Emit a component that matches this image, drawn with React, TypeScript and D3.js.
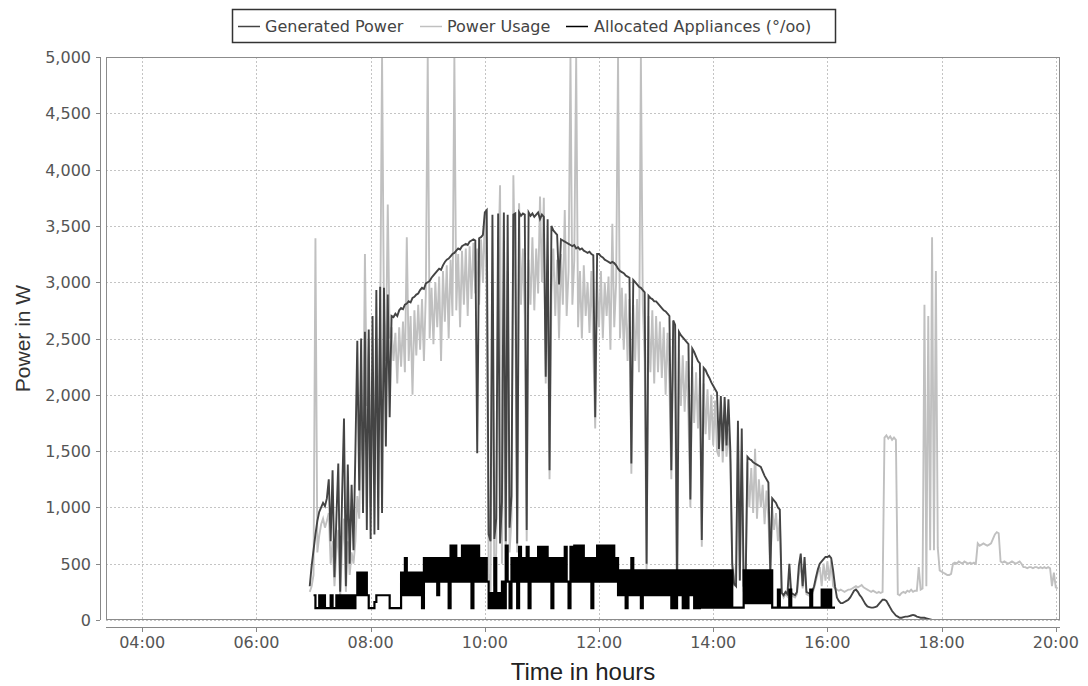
import React from "react";
import * as d3 from "d3";

const WIDTH = 1088;
const HEIGHT = 686;
const PLOT = { left: 106, right: 1060, top: 57, bottom: 620 };

// hours shown on the x axis (domain in decimal hours)
const X_DOMAIN: [number, number] = [3.365, 20.074];
const X_TICKS = [4, 6, 8, 10, 12, 14, 16, 18, 20];
const Y_DOMAIN: [number, number] = [0, 5000];
const Y_TICKS = [0, 500, 1000, 1500, 2000, 2500, 3000, 3500, 4000, 4500, 5000];

const SERIES_NAMES = ["Generated Power", "Power Usage", "Allocated Appliances (°/oo)"];

// sampling: one value every 2 minutes
const STEP_MIN = 2;

// Generated Power (W), from 06:56
const GEN_START = "06:56";
const generatedPower = [
  300, 480,
  620, 760, 880, 960, 1000, 1040, 1010, 1080, 1250, 700, 1330, 380, 900, 1390, 250, 1100, 1790, 300, 1380, 500, 1200, 620, 1500, 2480, 1150, 2500, 950, 2560, 800, 2580,
  720, 2700, 760, 2930, 800, 2960, 950, 2950, 1540, 2890, 1800, 2700, 2690, 2720, 2700, 2750, 2770, 2760, 2800, 2810, 2830, 2820, 2860, 2870, 2890, 2900, 2930, 2950, 2940, 2990,
  3000, 3010, 3040, 3060, 3080, 3100, 3120, 3110, 3150, 3180, 3200, 3210, 3230, 3250, 3260, 3280, 3300, 3290, 3320, 3330, 3340, 3330, 3360, 3370, 3380, 3370, 1480, 3390, 3400, 3420,
  3620, 3640, 760, 700, 3600, 720, 900, 3610, 680, 1050, 3620, 700, 3600, 820, 1100, 3600, 3610, 680, 3620, 3590, 3610, 3600, 800, 3620, 3590, 3610, 3580, 3600, 3620, 3560,
  3600, 3580, 2160, 3560, 1330, 3500, 3460, 3440, 3420, 2980, 3380, 3370, 3360, 3350, 3340, 3330, 3320, 3330, 3300, 3310, 3290, 3300, 3280, 3270, 3260, 3270, 3250, 3240, 1800, 3250,
  3250, 3230, 3220, 3200, 3190, 3180, 3170, 3180, 3170, 3150, 3120, 3100, 3090, 3080, 3060, 3050, 3040, 1390, 3020, 3000, 2980, 2960, 2950, 2930, 2910, 500, 2880, 2860, 2850, 2830,
  2830, 2810, 2790, 2770, 2750, 2740, 2720, 2700, 1330, 2660, 2620, 240, 2560, 2530, 2510, 2490, 2470, 2450, 1070, 2410, 2380, 2340, 2300, 2280, 710, 2240, 2220, 2180, 2150, 2110,
  2080, 2050, 2020, 1520, 1990, 1500, 1980, 1550, 1960, 1510, 500, 320, 300, 1770, 350, 1700, 300, 280, 1450, 1430, 1420, 1400, 1390, 1380, 1370, 1360, 1320, 1280, 1250, 1220,
  420, 1080, 1060, 1040, 1000, 980, 240, 220, 250, 230, 500, 240, 230, 220, 250, 480, 590, 300, 560, 250, 240, 230, 250, 300, 380, 450, 500, 520, 540, 560,
  560, 570, 550, 440, 300, 200, 170, 150, 150, 160, 170, 180, 200, 230, 260, 270, 250, 220, 200, 170, 140, 120, 115, 110, 110, 115, 120, 140, 160, 180,
  180, 170, 140, 110, 80, 60, 40, 30, 20, 20, 25, 30, 30, 35, 40, 45, 40, 30, 25, 20, 20, 20, 15, 10, 5, 0, 0, 0, 0, 0,
  0, 0, 0, 0, 0, 0, 0, 0, 0, 0, 0, 0, 0, 0, 0,
];

// Power Usage (W), from 06:56
const USAGE_START = "06:56";
const powerUsage = [
  250, 300,
  400, 3390, 600, 750, 850, 900, 820, 880, 950, 500, 700, 300, 600, 800, 200, 650, 900, 250, 700, 400, 600, 500, 700, 1100, 900, 1800, 1400, 3250, 1900, 2500,
  1000, 2200, 1200, 2500, 1800, 2600, 5000, 2700, 2300, 3690, 2500, 2600, 2300, 2550, 2100, 2600, 2250, 2650, 2200, 3400, 2300, 2700, 2000, 2750, 2350, 2800, 2400, 2850, 2300, 2900,
  5000, 2500, 2950, 2450, 3000, 2600, 3050, 2300, 3100, 2650, 3150, 2500, 3200, 2700, 5000, 2750, 3250, 2600, 3280, 2800, 3300, 2700, 3320, 2850, 3350, 2900, 3300, 2800, 3380, 3000,
  3600, 2900, 400, 250, 3000, 300, 600, 3100, 3860, 500, 2900, 350, 3100, 600, 900, 3950, 2900, 600, 3700, 2800, 3300, 2700, 700, 3200, 2800, 3400, 2750, 3300, 2900, 3760,
  3000, 3750, 2100, 3200, 1250, 2900, 3300, 2700, 3200, 2500, 3250, 2800, 3640, 2700, 3100, 5000, 2800, 3200, 5000, 2600, 3100, 2500, 3150, 2700, 3000, 2550, 3100, 2400, 1700, 3000,
  2600, 3100, 2500, 3000, 2700, 3050, 2400, 3520, 2600, 3000, 5000, 2500, 2950, 2400, 2900, 2300, 2850, 1300, 2800, 2300, 2850, 2200, 5000, 2800, 2300, 450, 2700, 2200, 2750, 2100,
  2700, 2200, 2650, 2150, 2600, 2000, 2550, 2100, 1250, 2500, 2000, 200, 2400, 1900, 2350, 1850, 2300, 1800, 1000, 2250, 1750, 2200, 1700, 2150, 650, 2100, 1650, 2050, 1600, 2000,
  1550, 1950, 1500, 1450, 1850, 1400, 1800, 1450, 1700, 1400, 450, 300, 500, 1650, 350, 1500, 250, 300, 1400, 1000, 1350, 950, 1520, 900, 1250, 1000, 1200, 850, 1150, 900,
  400, 1000, 800, 950, 700, 900, 250, 200, 230, 210, 400, 220, 210, 200, 230, 400, 500, 280, 450, 230, 220, 210, 230, 280, 350, 420, 470, 300, 500, 350,
  520, 350, 530, 300, 280, 270, 260, 270, 260, 250, 260, 270, 270, 280, 290, 300, 290, 300, 310, 290, 280, 270, 260, 250, 260, 250, 240, 250, 240, 250,
  1620, 1640, 1610, 1630, 1600, 1620, 1600, 230, 220, 240, 250, 240, 260, 250, 270, 250, 260, 260, 470, 270, 280, 2800, 300, 2700, 620, 3400, 620, 3100, 640, 440,
  430, 420, 410, 400, 400, 410, 500, 510, 500, 520, 510, 500, 520, 510, 500, 510, 500, 510, 500, 680, 660, 670, 680, 670, 660, 670, 680, 720, 760, 780,
  770, 520, 510, 520, 510, 500, 510, 520, 510, 500, 510, 520, 500, 470, 470, 460, 470, 470, 460, 470, 470, 460, 470, 460, 470, 460, 470, 460, 300, 420,
  290, 280,
];

// Allocated Appliances, from 07:00
const ALLOC_START = "07:00";
const allocatedAppliances = [
  220, 105, 105, 220, 105, 220, 105, 105, 105, 220, 105, 105, 220, 105, 220, 105, 220, 105, 220, 105, 220, 105, 220, 420, 220, 420, 220, 420, 220, 105,
  105, 105, 160, 220, 220, 220, 220, 220, 220, 220, 105, 105, 105, 105, 105, 105, 420, 220, 550, 220, 420, 220, 420, 220, 420, 220, 420, 105, 550, 340,
  550, 340, 550, 340, 550, 220, 550, 340, 550, 340, 550, 105, 660, 340, 660, 340, 550, 340, 660, 340, 660, 340, 660, 105, 660, 340, 660, 340, 550, 340,
  550, 340, 105, 240, 105, 550, 105, 240, 105, 340, 105, 660, 340, 105, 550, 340, 550, 105, 650, 340, 550, 340, 650, 105, 550, 340, 550, 340, 650, 340,
  650, 340, 650, 340, 550, 105, 550, 340, 550, 340, 550, 340, 650, 340, 105, 650, 340, 660, 340, 660, 340, 660, 340, 550, 340, 550, 105, 550, 340, 660,
  340, 660, 340, 660, 340, 660, 340, 660, 340, 550, 220, 440, 220, 440, 105, 440, 220, 550, 220, 440, 220, 440, 105, 440, 220, 440, 220, 440, 220, 440,
  220, 440, 220, 440, 220, 440, 220, 440, 105, 440, 105, 440, 220, 440, 105, 440, 105, 440, 220, 440, 105, 440, 105, 440, 110, 440, 110, 440, 110, 440,
  110, 440, 110, 440, 110, 440, 110, 440, 110, 440, 110, 110, 110, 110, 110, 110, 440, 150, 440, 150, 440, 150, 440, 150, 440, 150, 440, 150, 440, 150,
  440, 110, 110, 110, 270, 110, 110, 110, 110, 110, 270, 110, 110, 110, 110, 110, 110, 110, 110, 110, 110, 270, 110, 110, 110, 110, 110, 270, 110, 270,
  110, 270, 110, 110, 110,
];

const COLORS = { generated: "#444444", usage: "#c0c0c0", allocated: "#000000" };

function toHours(hhmm: string): number {
  const [h, m] = hhmm.split(":").map(Number);
  return h + m / 60;
}

function toPoints(start: string, values: number[]): [number, number][] {
  const s = toHours(start);
  return values.map((v, i) => [s + (i * STEP_MIN) / 60, v]);
}

function fmtHour(h: number): string {
  return String(h).padStart(2, "0") + ":00";
}

export default function App() {
  const x = d3.scaleLinear().domain(X_DOMAIN).range([PLOT.left, PLOT.right]);
  const y = d3.scaleLinear().domain(Y_DOMAIN).range([PLOT.bottom, PLOT.top]);
  const fmtY = d3.format(",");

  const line = d3
    .line<[number, number]>()
    .x((d) => x(d[0]))
    .y((d) => y(d[1]));
  const stepLine = d3
    .line<[number, number]>()
    .x((d) => x(d[0]))
    .y((d) => y(d[1]))
    .curve(d3.curveStepAfter);

  const genPath = line(toPoints(GEN_START, generatedPower)) || "";
  const usagePath = line(toPoints(USAGE_START, powerUsage)) || "";
  const allocPath = stepLine(toPoints(ALLOC_START, allocatedAppliances)) || "";

  const axisColor = "#888888";
  const tickFont = "'DejaVu Sans', Verdana, sans-serif";

  const legendItems = [
    { name: SERIES_NAMES[0], color: COLORS.generated, lx: 238, tx: 265 },
    { name: SERIES_NAMES[1], color: COLORS.usage, lx: 420, tx: 447 },
    { name: SERIES_NAMES[2], color: COLORS.allocated, lx: 566, tx: 594 },
  ];

  return (
    <div style={{ position: "absolute", left: 0, top: 0 }}>
      <svg width={WIDTH} height={HEIGHT} viewBox={`0 0 ${WIDTH} ${HEIGHT}`} style={{ display: "block", background: "#fff" }}>
        <defs>
          <clipPath id="plotClip">
            <rect x={PLOT.left} y={PLOT.top} width={PLOT.right - PLOT.left} height={PLOT.bottom - PLOT.top} />
          </clipPath>
        </defs>
        <rect x={0} y={0} width={WIDTH} height={HEIGHT} fill="#ffffff" />
        {/* plot background */}
        <rect x={PLOT.left} y={PLOT.top} width={PLOT.right - PLOT.left} height={PLOT.bottom - PLOT.top} fill="#ffffff" />

        {/* grid */}
        <g stroke="#c4c4c4" strokeWidth={1} strokeDasharray="2,2" shapeRendering="crispEdges">
          {Y_TICKS.map((t) => (
            <line key={"gy" + t} x1={PLOT.left} x2={PLOT.right} y1={Math.round(y(t)) + 0.5} y2={Math.round(y(t)) + 0.5} />
          ))}
          {X_TICKS.map((t) => (
            <line key={"gx" + t} x1={Math.round(x(t)) + 0.5} x2={Math.round(x(t)) + 0.5} y1={PLOT.top} y2={PLOT.bottom} />
          ))}
        </g>

        {/* series */}
        <g clipPath="url(#plotClip)" fill="none" strokeLinejoin="miter" strokeLinecap="butt">
          <path d={usagePath} stroke={COLORS.usage} strokeWidth={1.9} />
          <path d={genPath} stroke={COLORS.generated} strokeWidth={1.9} />
          <path d={allocPath} stroke={COLORS.allocated} strokeWidth={2.2} />
        </g>

        {/* plot frame */}
        <rect
          x={PLOT.left + 0.5}
          y={PLOT.top + 0.5}
          width={PLOT.right - PLOT.left - 1}
          height={PLOT.bottom - PLOT.top - 1}
          fill="none"
          stroke="#8c8c8c"
          strokeWidth={1}
          shapeRendering="crispEdges"
        />

        {/* y axis */}
        <g shapeRendering="crispEdges" stroke={axisColor} strokeWidth={1}>
          <line x1={100.5} x2={100.5} y1={PLOT.top} y2={PLOT.bottom} />
          {Y_TICKS.map((t) => (
            <line key={"yt" + t} x1={96} x2={100} y1={Math.round(y(t)) + 0.5} y2={Math.round(y(t)) + 0.5} />
          ))}
        </g>
        <g fontFamily={tickFont} fontSize={16} fill="#555555" textAnchor="end">
          {Y_TICKS.map((t) => (
            <text key={"yl" + t} x={91} y={y(t) + 6}>
              {fmtY(t)}
            </text>
          ))}
        </g>

        {/* x axis */}
        <g shapeRendering="crispEdges" stroke={axisColor} strokeWidth={1}>
          <line x1={PLOT.left} x2={PLOT.right} y1={627.5} y2={627.5} />
          {X_TICKS.map((t) => (
            <line key={"xt" + t} x1={Math.round(x(t)) + 0.5} x2={Math.round(x(t)) + 0.5} y1={627} y2={632} />
          ))}
        </g>
        <g fontFamily={tickFont} fontSize={16} fill="#555555" textAnchor="middle">
          {X_TICKS.map((t) => (
            <text key={"xl" + t} x={x(t)} y={648}>
              {fmtHour(t)}
            </text>
          ))}
        </g>

        {/* axis titles */}
        <text
          x={(PLOT.left + PLOT.right) / 2}
          y={680}
          textAnchor="middle"
          fontFamily="'Liberation Sans', Arial, sans-serif"
          fontSize={24}
          fill="#222222"
        >
          Time in hours
        </text>
        <text
          transform={`translate(30, ${(PLOT.top + PLOT.bottom) / 2}) rotate(-90)`}
          textAnchor="middle"
          fontFamily="'Liberation Sans', Arial, sans-serif"
          fontSize={21}
          fill="#333333"
        >
          Power in W
        </text>

        {/* legend */}
        <rect x={232.5} y={9.5} width={603} height={33} fill="#ffffff" stroke="#333333" strokeWidth={1.5} />
        {legendItems.map((it) => (
          <g key={it.name}>
            <line x1={it.lx} x2={it.lx + 22} y1={26.5} y2={26.5} stroke={it.color} strokeWidth={1.5} />
            <text x={it.tx} y={32} fontFamily={tickFont} fontSize={16} fill="#444444">
              {it.name}
            </text>
          </g>
        ))}
      </svg>
    </div>
  );
}
